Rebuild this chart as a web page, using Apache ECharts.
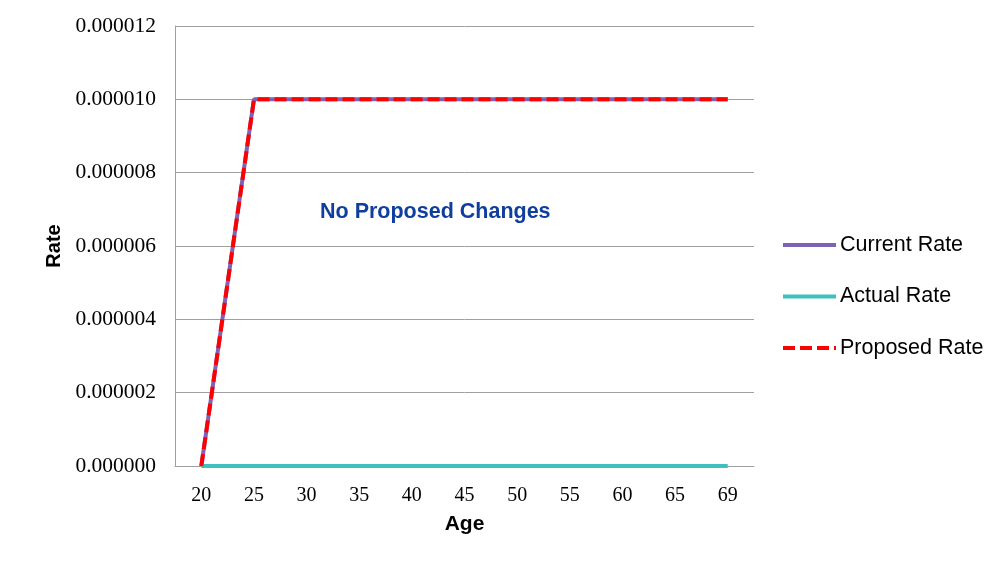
<!DOCTYPE html>
<html>
<head>
<meta charset="utf-8">
<script src="https://cdn.jsdelivr.net/npm/echarts@6/dist/echarts.min.js"></script>
<style>
html,body{margin:0;padding:0;background:#fff;}
#chart{width:1004px;height:569px;}
</style>
</head>
<body>
<div id="chart"></div>
<script>
var ages = ['20','25','30','35','40','45','50','55','60','65','69'];
var currentRate = [0, 0.00001, 0.00001, 0.00001, 0.00001, 0.00001, 0.00001, 0.00001, 0.00001, 0.00001, 0.00001];
var actualRate = [0, 0, 0, 0, 0, 0, 0, 0, 0, 0, 0];
var proposedRate = [0, 0.00001, 0.00001, 0.00001, 0.00001, 0.00001, 0.00001, 0.00001, 0.00001, 0.00001, 0.00001];
var yMin = 0, yMax = 0.000012, yStep = 0.000002;

var chart = echarts.init(document.getElementById('chart'), null, {renderer: 'canvas'});
chart.setOption({
  backgroundColor: '#ffffff',
  animation: false,
  grid: {left: 175, right: 250, top: 26, bottom: 103, show: false},
  xAxis: {
    type: 'category',
    data: ages,
    boundaryGap: true,
    name: 'Age',
    nameLocation: 'middle',
    nameGap: 48,
    nameTextStyle: {fontFamily: 'Liberation Sans', fontWeight: 'bold', fontSize: 21, color: '#000'},
    axisLine: {show: true, lineStyle: {color: '#a0a0a0', width: 1}},
    axisTick: {show: false},
    axisLabel: {fontFamily: 'Liberation Serif', fontSize: 20, color: '#000', margin: 20}
  },
  yAxis: {
    type: 'value',
    min: yMin, max: yMax, interval: yStep,
    name: 'Rate',
    nameLocation: 'middle',
    nameGap: 104,
    nameRotate: 90,
    nameTextStyle: {fontFamily: 'Liberation Sans', fontWeight: 'bold', fontSize: 20, color: '#000'},
    axisLine: {show: true, lineStyle: {color: '#a0a0a0', width: 1}},
    axisTick: {show: false},
    splitLine: {show: true, lineStyle: {color: '#a0a0a0', width: 1}},
    axisLabel: {fontFamily: 'Liberation Serif', fontSize: 21.5, color: '#000', margin: 19,
      formatter: function(v){ return v.toFixed(6); }}
  },
  legend: {
    orient: 'vertical',
    left: 781, top: 234,
    padding: 0,
    itemWidth: 53, itemHeight: 20,
    itemGap: 29.5,
    itemStyle: {opacity: 0},
    lineStyle: {width: 4},
    textStyle: {fontFamily: 'Liberation Sans', fontSize: 21.5, color: '#000', padding: [0,0,0,-1]},
    data: ['Current Rate', 'Actual Rate', 'Proposed Rate']
  },
  graphic: [{
    type: 'text', left: 320, top: 201,
    style: {text: 'No Proposed Changes', fontFamily: 'Liberation Sans', fontWeight: 'bold', fontSize: 21.5, fill: '#0F3E9E'}
  }],
  series: [
    {name: 'Current Rate', type: 'line', data: currentRate, symbol: 'none', color: '#7E62B6',
     lineStyle: {color: '#7E62B6', width: 4}},
    {name: 'Actual Rate', type: 'line', data: actualRate, symbol: 'none', color: '#3EC0C0',
     lineStyle: {color: '#3EC0C0', width: 4}},
    {name: 'Proposed Rate', type: 'line', data: proposedRate, symbol: 'none', color: '#FF0000',
     lineStyle: {color: '#FF0000', width: 4, type: [12, 5]}}
  ]
});
</script>
</body>
</html>
